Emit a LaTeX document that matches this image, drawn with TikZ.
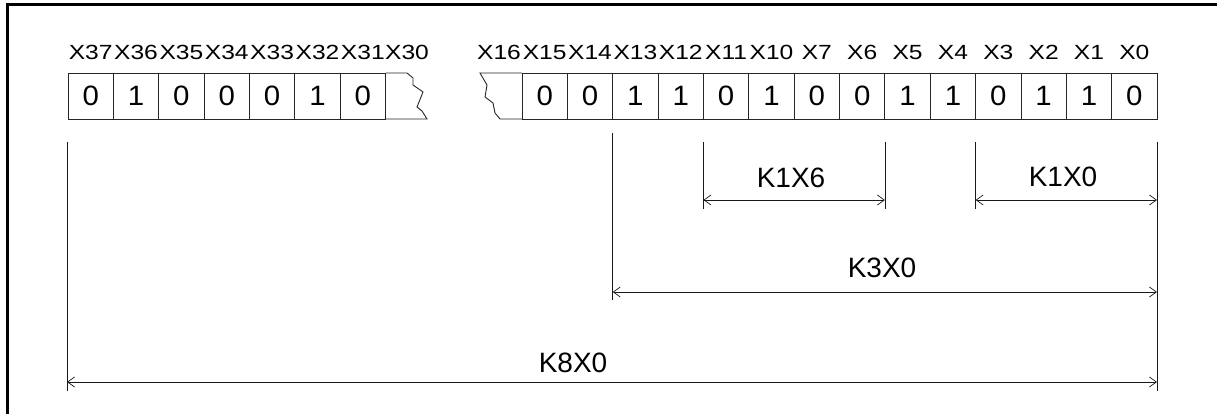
\documentclass[tikz,border=0pt]{standalone}
\usepackage{fontspec}
\setmainfont{Liberation Sans}
\usetikzlibrary{arrows.meta}
\newcommand{\bitv}[1]{\scalebox{1.05}[1]{\fontsize{28}{28}\selectfont #1}}
\newcommand{\bitl}[1]{\scalebox{1.2}[1]{\fontsize{20.5}{20.5}\selectfont #1}}
\tikzset{
  cell/.style={draw=black!85, line width=0.9pt, minimum width=45.36pt, minimum height=46pt, inner sep=0pt, outer sep=0pt},
  bitlab/.style={inner sep=0pt},
  dimlab/.style={font=\fontsize{28}{28}\selectfont, inner sep=0pt},
  extline/.style={line width=0.8pt, black!90},
  dimarrow/.style={line width=0.8pt, black!90, {Straight Barb[length=7pt,width=10pt,line width=0.7pt]}-{Straight Barb[length=7pt,width=10pt,line width=0.7pt]}},
  frameline/.style={line width=3pt},
  brk/.style={draw=black!85, line width=0.9pt}
}
\begin{document}
\begin{tikzpicture}[x=1pt,y=-1pt]
\useasboundingbox (0,0) rectangle (1217,414);
\draw[frameline] (7,414) -- (7,5) -- (1217,5);

% left group cells X37..X31
\foreach \v [count=\i from 0] in {0,1,0,0,0,1,0} {
  \node[cell] (L\i) at ({68+45.36*(\i+0.5)},96) {\bitv{\v}};
}
\foreach \t [count=\i from 0] in {X37,X36,X35,X34,X33,X32,X31} {
  \node[bitlab] (LL\i) at ({68+45.36*(\i+0.5)},52.5) {\bitl{\t}};
}
\node[bitlab] (LL7) at (407,52.5) {\bitl{X30}};
% left broken cell
\draw[brk] (L6.north east) -- (407,73) -- (413,78) -- (413,85) -- (423,92) -- (417,107) -- (422,111) -- (427,119) -- (L6.south east);

% right group cells
\foreach \v [count=\i from 0] in {0,0,1,1,0,1,0,0,1,1,0,1,1,0} {
  \node[cell] (R\i) at ({522+45.36*(\i+0.5)},96) {\bitv{\v}};
}
\foreach \t [count=\i from 0] in {X15,X14,X13,X12,X11,X10,X7,X6,X5,X4,X3,X2,X1,X0} {
  \node[bitlab] (RL\i) at ({522+45.36*(\i+0.5)},52.5) {\bitl{\t}};
}
\node[bitlab] (RL16) at (499,52.5) {\bitl{X16}};
% right broken cell
\draw[brk] (R0.north west) -- (480,73) -- (487,85) -- (485,97) -- (493,103) -- (495,113) -- (500,119) -- (R0.south west);

% extension lines
\coordinate (a1) at (67,142);   \coordinate (a2) at (67,391);
\coordinate (b1) at (1157,142); \coordinate (b2) at (1157,391);
\coordinate (c1) at (612.7,133); \coordinate (c2) at (612.7,300);
\coordinate (d1) at (703.4,142); \coordinate (d2) at (703.4,209);
\coordinate (e1) at (884.9,142); \coordinate (e2) at (884.9,209);
\coordinate (f1) at (975.6,142); \coordinate (f2) at (975.6,209);
\draw[extline] (a1) -- (a2);
\draw[extline] (b1) -- (b2);
\draw[extline] (c1) -- (c2);
\draw[extline] (d1) -- (d2);
\draw[extline] (e1) -- (e2);
\draw[extline] (f1) -- (f2);

% dimension arrows
\coordinate (k8l) at (67,382);    \coordinate (k8r) at (1157,382);
\coordinate (k3l) at (612.7,292); \coordinate (k3r) at (1157,292);
\coordinate (k6l) at (703.4,200); \coordinate (k6r) at (884.9,200);
\coordinate (k0l) at (975.6,200); \coordinate (k0r) at (1157,200);
\draw[dimarrow] (k8l) -- (k8r);
\draw[dimarrow] (k3l) -- (k3r);
\draw[dimarrow] (k6l) -- (k6r);
\draw[dimarrow] (k0l) -- (k0r);

\node[dimlab] (K8) at (573,363) {K8X0};
\node[dimlab] (K3) at (882,268) {K3X0};
\node[dimlab] (K16) at (791,178) {K1X6};
\node[dimlab] (K10) at (1063,177) {K1X0};
\end{tikzpicture}
\end{document}
